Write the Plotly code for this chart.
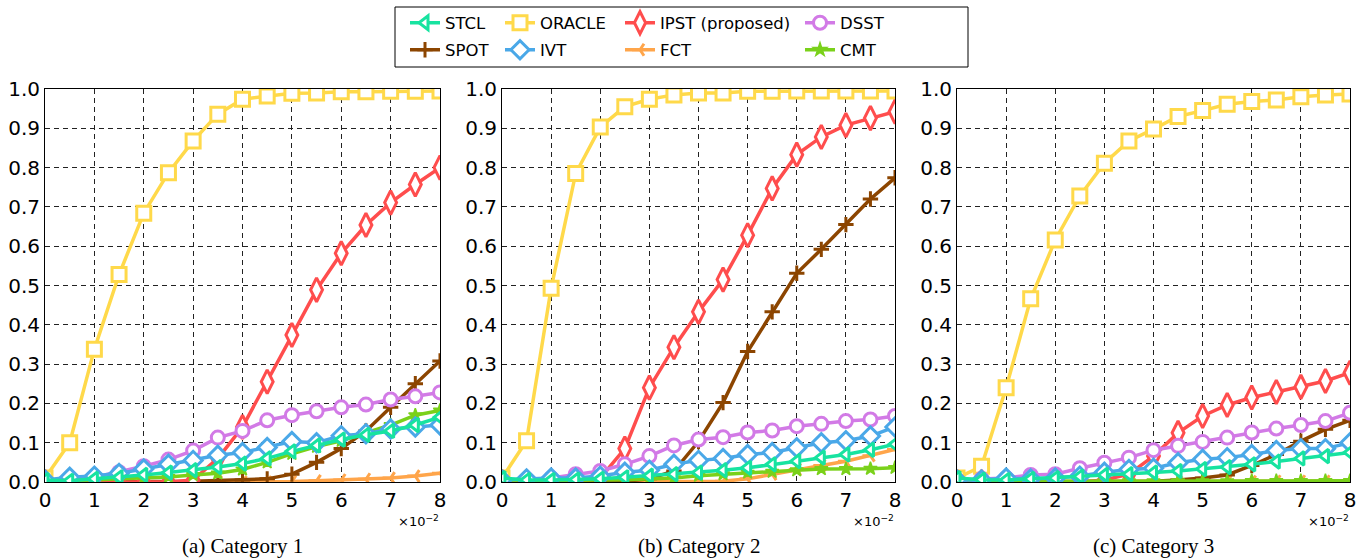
import plotly.graph_objects as go

W, H = 1362, 559

x_vals = [0, 0.5, 1, 1.5, 2, 2.5, 3, 3.5, 4, 4.5, 5, 5.5, 6, 6.5, 7, 7.5, 8]
x_ticks = [0, 1, 2, 3, 4, 5, 6, 7, 8]
y_ticks = [0.0, 0.1, 0.2, 0.3, 0.4, 0.5, 0.6, 0.7, 0.8, 0.9, 1.0]
methods = ["STCL", "SPOT", "ORACLE", "IVT", "IPST (proposed)", "FCT", "DSST", "CMT"]
panel_titles = ["(a) Category 1", "(b) Category 2", "(c) Category 3"]

# Category 1
c1_stcl = [0.005, 0.003, 0.008, 0.012, 0.018, 0.024, 0.030, 0.038, 0.047, 0.060, 0.078, 0.093, 0.108, 0.120, 0.130, 0.145, 0.165]
c1_spot = [0, 0, 0, 0, 0, 0, 0.002, 0.004, 0.005, 0.008, 0.020, 0.050, 0.085, 0.130, 0.190, 0.250, 0.308]
c1_oracle = [0.01, 0.10, 0.338, 0.528, 0.684, 0.787, 0.868, 0.936, 0.974, 0.982, 0.989, 0.990, 0.993, 0.993, 0.994, 0.994, 0.995]
c1_ivt = [0.005, 0.012, 0.015, 0.022, 0.033, 0.045, 0.055, 0.068, 0.075, 0.088, 0.103, 0.100, 0.118, 0.123, 0.135, 0.140, 0.145]
c1_ipst = [0, 0, 0, 0, 0, 0, 0.005, 0.060, 0.140, 0.255, 0.374, 0.489, 0.582, 0.654, 0.711, 0.757, 0.800]
c1_fct = [0, 0, 0, 0, 0, 0, 0, 0, 0, 0, 0.001, 0.003, 0.005, 0.007, 0.010, 0.015, 0.022]
c1_dsst = [0.003, 0.005, 0.012, 0.025, 0.040, 0.057, 0.080, 0.113, 0.130, 0.157, 0.170, 0.180, 0.190, 0.197, 0.210, 0.218, 0.228]
c1_cmt = [0.003, 0.003, 0.005, 0.008, 0.010, 0.013, 0.018, 0.022, 0.032, 0.050, 0.072, 0.090, 0.105, 0.125, 0.145, 0.170, 0.182]

# Category 2
c2_stcl = [0.010, 0.005, 0.005, 0.006, 0.008, 0.012, 0.016, 0.020, 0.024, 0.030, 0.036, 0.045, 0.053, 0.062, 0.070, 0.082, 0.096]
c2_spot = [0, 0, 0, 0, 0, 0.002, 0.008, 0.028, 0.103, 0.202, 0.332, 0.433, 0.531, 0.592, 0.655, 0.720, 0.774]
c2_oracle = [0.01, 0.105, 0.493, 0.785, 0.903, 0.955, 0.974, 0.985, 0.990, 0.990, 0.994, 0.994, 0.995, 0.995, 0.995, 0.995, 0.995]
c2_ivt = [0.005, 0.008, 0.010, 0.010, 0.015, 0.025, 0.030, 0.045, 0.055, 0.060, 0.070, 0.075, 0.087, 0.100, 0.105, 0.117, 0.140]
c2_ipst = [0, 0, 0, 0, 0.010, 0.085, 0.240, 0.343, 0.433, 0.515, 0.628, 0.747, 0.833, 0.878, 0.908, 0.926, 0.942]
c2_fct = [0, 0, 0, 0, 0, 0, 0, 0, 0, 0.002, 0.008, 0.020, 0.032, 0.042, 0.053, 0.067, 0.083]
c2_dsst = [0.005, 0.005, 0.010, 0.020, 0.028, 0.045, 0.066, 0.093, 0.108, 0.114, 0.126, 0.131, 0.142, 0.148, 0.155, 0.159, 0.168]
c2_cmt = [0.003, 0.003, 0.003, 0.004, 0.005, 0.006, 0.008, 0.010, 0.016, 0.020, 0.024, 0.026, 0.030, 0.033, 0.033, 0.034, 0.036]

# Category 3
c3_stcl = [0.010, 0.006, 0.005, 0.008, 0.010, 0.014, 0.018, 0.020, 0.024, 0.028, 0.033, 0.038, 0.045, 0.052, 0.060, 0.066, 0.075]
c3_spot = [0, 0, 0, 0, 0, 0, 0, 0, 0.002, 0.005, 0.010, 0.018, 0.042, 0.070, 0.104, 0.134, 0.157]
c3_oracle = [0.01, 0.040, 0.240, 0.466, 0.616, 0.728, 0.811, 0.868, 0.898, 0.930, 0.945, 0.961, 0.968, 0.972, 0.980, 0.985, 0.987]
c3_ivt = [0.005, 0.005, 0.010, 0.008, 0.010, 0.015, 0.025, 0.032, 0.035, 0.049, 0.058, 0.062, 0.070, 0.080, 0.085, 0.085, 0.100]
c3_ipst = [0, 0, 0, 0, 0, 0, 0.005, 0.020, 0.066, 0.125, 0.168, 0.196, 0.215, 0.229, 0.242, 0.257, 0.278]
c3_fct = [0, 0, 0, 0, 0, 0, 0, 0, 0, 0, 0, 0.001, 0.001, 0.002, 0.002, 0.002, 0.003]
c3_dsst = [0.005, 0.008, 0.010, 0.018, 0.020, 0.035, 0.049, 0.062, 0.081, 0.092, 0.102, 0.113, 0.126, 0.136, 0.145, 0.155, 0.176]
c3_cmt = [0.002, 0.002, 0.002, 0.002, 0.002, 0.002, 0.002, 0.002, 0.002, 0.002, 0.002, 0.002, 0.003, 0.003, 0.003, 0.003, 0.003]

panels = [
    [c1_stcl, c1_spot, c1_oracle, c1_ivt, c1_ipst, c1_fct, c1_dsst, c1_cmt],
    [c2_stcl, c2_spot, c2_oracle, c2_ivt, c2_ipst, c2_fct, c2_dsst, c2_cmt],
    [c3_stcl, c3_spot, c3_oracle, c3_ivt, c3_ipst, c3_fct, c3_dsst, c3_cmt],
]

colors = {
    "STCL": "#17e3a0", "SPOT": "#8c4500", "ORACLE": "#ffd94a", "IVT": "#4aa8e8",
    "IPST (proposed)": "#ff4d4d", "FCT": "#ffa54a", "DSST": "#d27ae6", "CMT": "#7ad11a",
}
markers = {
    "STCL": dict(symbol="triangle-left", size=12, fill=True),
    "SPOT": dict(symbol="cross-thin", size=11, fill=False),
    "ORACLE": dict(symbol="square", size=14, fill=True),
    "IVT": dict(symbol="diamond", size=14, fill=True),
    "IPST (proposed)": dict(symbol="diamond-tall", size=17, fill=True),
    "FCT": dict(symbol="y-left", size=10, fill=False),
    "DSST": dict(symbol="circle", size=13, fill=True),
    "CMT": dict(symbol="star", size=10, fill=False),
}
# drawing order (later on top)
draw_order = ["FCT", "SPOT", "ORACLE", "IPST (proposed)", "DSST", "CMT", "IVT", "STCL"]

# legend placement (text-start pixel x, row center pixel y)
legend_pos = {
    "STCL": (447, 23), "SPOT": (447, 50),
    "ORACLE": (542, 23), "IVT": (542, 50),
    "IPST (proposed)": (662, 23), "FCT": (662, 50),
    "DSST": (842, 23), "CMT": (842, 50),
}

x_dom = [(45, 440), (502, 895), (957, 1350)]
y_dom = (89, 482)

fig = go.Figure()
layout = {}
for p in range(3):
    sfx = "" if p == 0 else str(p + 1)
    for name in draw_order:
        i = methods.index(name)
        m = markers[name]
        col = colors[name]
        if name == "CMT":
            mk = dict(symbol=m["symbol"], size=m["size"], color=col, line=dict(color=col, width=1.5))
        elif m["fill"]:
            mk = dict(symbol=m["symbol"], size=m["size"], color="white", line=dict(color=col, width=3))
        else:
            mk = dict(symbol=m["symbol"], size=m["size"], color=col, line=dict(color=col, width=3))
        lg_idx = methods.index(name) + 1
        fig.add_trace(go.Scatter(
            x=x_vals, y=panels[p][i], name=name, mode="lines+markers",
            line=dict(color=col, width=3.5), marker=mk,
            xaxis="x" + sfx, yaxis="y" + sfx,
            showlegend=(p == 0),
            legend="legend" if lg_idx == 1 else "legend%d" % lg_idx,
        ))
    x0, x1 = x_dom[p]
    layout["xaxis" + sfx] = dict(
        domain=[x0 / W, x1 / W], range=[0, 8], anchor="y" + sfx,
        tickvals=x_ticks, ticktext=[str(t) for t in x_ticks],
        showgrid=True, gridcolor="#222", griddash="5px,4px", gridwidth=1,
        showline=True, mirror=True, linecolor="black", linewidth=1,
        zeroline=False, ticks="", tickfont=dict(family="DejaVu Sans", size=20, color="black"),
        automargin=False,
    )
    layout["yaxis" + sfx] = dict(
        domain=[1 - y_dom[1] / H, 1 - y_dom[0] / H], range=[0, 1], anchor="x" + sfx,
        tickvals=y_ticks, ticktext=["%.1f" % t for t in y_ticks],
        showgrid=True, gridcolor="#222", griddash="5px,4px", gridwidth=1,
        showline=True, mirror=True, linecolor="black", linewidth=1,
        zeroline=False, ticks="", tickfont=dict(family="DejaVu Sans", size=20, color="black"),
        automargin=False,
    )

for k, name in enumerate(methods):
    tx, ty = legend_pos[name]
    key = "legend" if k == 0 else "legend%d" % (k + 1)
    layout[key] = dict(
        x=(tx - 42) / W, y=1 - ty / H, xanchor="left", yanchor="middle",
        orientation="v", bgcolor="rgba(0,0,0,0)", borderwidth=0,
        font=dict(family="DejaVu Sans", size=16.5, color="black"),
        itemwidth=30,
    )

annotations = []
for p in range(3):
    x0, x1 = x_dom[p]
    annotations.append(dict(
        x=(x0 + x1) / 2 / W, y=1 - 546 / H, xref="paper", yref="paper",
        text=panel_titles[p], showarrow=False, xanchor="center", yanchor="middle",
        font=dict(family="Liberation Serif", size=21, color="black"),
    ))
    annotations.append(dict(
        x=(x1 + 1) / W, y=1 - 521 / H, xref="paper", yref="paper",
        text="×10<sup>−2</sup>", showarrow=False, xanchor="right", yanchor="middle",
        font=dict(family="DejaVu Sans", size=13, color="black"),
    ))

shapes = [dict(type="rect", xref="paper", yref="paper",
               x0=395 / W, x1=968 / W, y0=1 - 67 / H, y1=1 - 7 / H,
               line=dict(color="black", width=1), fillcolor="rgba(0,0,0,0)", layer="above")]

fig.update_layout(
    width=W, height=H, margin=dict(l=0, r=0, t=0, b=0),
    paper_bgcolor="white", plot_bgcolor="white",
    annotations=annotations, shapes=shapes, **layout,
)

fig.write_html("out.html")
